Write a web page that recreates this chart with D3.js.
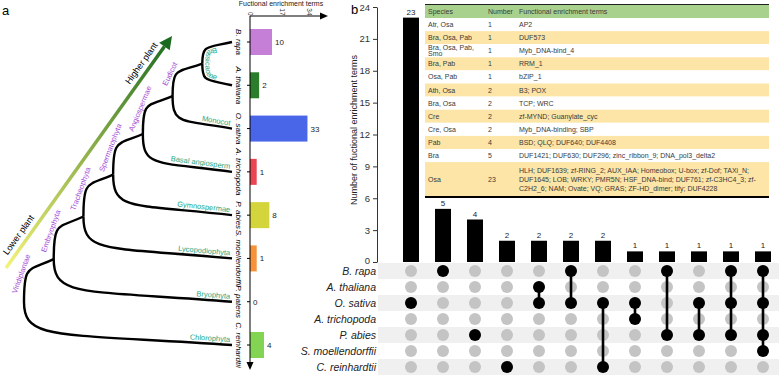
<!DOCTYPE html>
<html>
<head>
<meta charset="utf-8">
<script src="https://cdn.jsdelivr.net/npm/d3@7"></script>
<style>
  body { margin: 0; background: #fff; }
  svg { font-family: "Liberation Sans", Arial, sans-serif; }
</style>
</head>
<body>
<svg id="chart" width="779" height="375"></svg>
<script>
// ---- panel a data ----
var tipNames = ["B. rapa", "A. thaliana", "O. sativa", "A. trichopoda", "P. abies", "S. moellendorffii", "P. patens", "C. reinhardtii"];
var tipTerms = [10, 2, 33, 1, 8, 1, 0, 4];
var tipColors = ["#c57fd6", "#2b7d2b", "#4a66e8", "#ea4553", "#d4d43c", "#f5923a", "#cccccc", "#84d454"];
var tipBranchLabels = ["", "", "Monocot", "Basal angiosperm", "Gymnospermae", "Lycopodiophyta", "Bryophyta", "Chlorophyta"];
var cladeNames = ["Brassicaceae", "Eudicot", "Angiospermae", "Spermatophyta", "Tracheophyta", "Embryophyta", "Viridiplantae"];
var cladeDepth = [6, 5, 4, 3, 2, 1, 0];
var cladeChildren = [
  ["B. rapa", "A. thaliana"], ["Brassicaceae", "O. sativa"], ["Eudicot", "A. trichopoda"],
  ["Angiospermae", "P. abies"], ["Spermatophyta", "S. moellendorffii"], ["Tracheophyta", "P. patens"],
  ["Embryophyta", "C. reinhardtii"]
];
var termTicks = [0, 17, 34];

// ---- panel b data ----
var setSizes = [23, 5, 4, 2, 2, 2, 2, 1, 1, 1, 1, 1];
var setMembers = [
  ["O. sativa"], ["B. rapa"], ["P. abies"], ["C. reinhardtii"],
  ["A. thaliana", "O. sativa"], ["B. rapa", "O. sativa"], ["O. sativa", "C. reinhardtii"],
  ["O. sativa", "A. trichopoda"], ["B. rapa", "P. abies"], ["O. sativa", "P. abies"],
  ["B. rapa", "O. sativa", "P. abies"], ["B. rapa", "O. sativa", "P. abies", "S. moellendorffii"]
];
var matrixSpecies = ["B. rapa", "A. thaliana", "O. sativa", "A. trichopoda", "P. abies", "S. moellendorffii", "C. reinhardtii"];
var countTicks = [0, 3, 6, 9, 12, 15, 18, 21, 24];

var tableHeader = ["Species", "Number", "Functional enrichment terms"];
var tableSpecies = ["Atr, Osa", "Bra, Osa, Pab", "Bra, Osa, Pab,\nSmo", "Bra, Pab", "Osa, Pab", "Ath, Osa", "Bra, Osa", "Cre", "Cre, Osa", "Pab", "Bra", "Osa"];
var tableNumbers = [1, 1, 1, 1, 1, 2, 2, 2, 2, 4, 5, 23];
var tableTerms = [
  "AP2", "DUF573", "Myb_DNA-bind_4", "RRM_1", "bZIP_1", "B3; POX", "TCP; WRC",
  "zf-MYND; Guanylate_cyc", "Myb_DNA-binding; SBP", "BSD; QLQ; DUF640; DUF4408",
  "DUF1421; DUF630; DUF296; zinc_ribbon_9; DNA_pol3_delta2",
  "HLH; DUF1639; zf-RING_2; AUX_IAA; Homeobox; U-box; zf-Dof; TAXi_N;\nDUF1645; LOB; WRKY; PMR5N; HSF_DNA-bind; DUF761; zf-C3HC4_3; zf-\nC2H2_6; NAM; Ovate; VQ; GRAS; ZF-HD_dimer; tify; DUF4228"
];

var svg = d3.select("#chart");
var purple = "#a349d6", teal = "#22a884";
var defs = svg.append("defs");

// ================= panel a =================
svg.append("text").attr("x", 2).attr("y", 15).text("a").style("font-size", "13px");

var yA = d3.scalePoint().domain(tipNames).range([42, 345]);
// the bar axis of the figure is not strictly linear, so use a piecewise scale
var xA = d3.scaleLinear().domain([0, 1, 4, 10, 34]).range([250, 256.7, 264, 272, 309]);
var xTree = d3.scaleLinear().domain([0, 7]).range([24, 232]);

// node positions
var pos = {};
tipNames.forEach(function(n) { pos[n] = {x: xTree(7), y: yA(n)}; });
cladeNames.forEach(function(n, i) {
  pos[n] = {x: xTree(cladeDepth[i]), y: d3.mean(cladeChildren[i], function(k) { return pos[k].y; })};
});

// branch shape (cubic, normalised control points)
var ctrl = [[0, 0], [0, 0.9], [0.15, 0.72], [1, 1]];
function pts(p, c) {
  var dx = c.x - p.x, dy = c.y - p.y;
  return ctrl.map(function(q) { return [p.x + q[0] * dx, p.y + q[1] * dy]; });
}
function branch(p, c) {
  var q = pts(p, c);
  return "M" + q[0] + "C" + q[1] + " " + q[2] + " " + q[3];
}
function bez(p, c, t) {
  var dx = c.x - p.x, dy = c.y - p.y, mt = 1 - t;
  var w = [mt * mt * mt, 3 * mt * mt * t, 3 * mt * t * t, t * t * t];
  var u = 0, v = 0;
  ctrl.forEach(function(q, i) { u += w[i] * q[0]; v += w[i] * q[1]; });
  var du = 3 * (mt * mt * (ctrl[1][0] - ctrl[0][0]) + 2 * mt * t * (ctrl[2][0] - ctrl[1][0]) + t * t * (ctrl[3][0] - ctrl[2][0]));
  var dv = 3 * (mt * mt * (ctrl[1][1] - ctrl[0][1]) + 2 * mt * t * (ctrl[2][1] - ctrl[1][1]) + t * t * (ctrl[3][1] - ctrl[2][1]));
  return {x: p.x + u * dx, y: p.y + v * dy, a: Math.atan2(dv * dy, du * dx) * 180 / Math.PI};
}

var tree = svg.append("g");
cladeNames.forEach(function(n, i) {
  cladeChildren[i].forEach(function(k) {
    tree.append("path")
      .attr("d", branch(pos[n], pos[k]))
      .attr("fill", "none")
      .attr("stroke", "#000")
      .attr("stroke-width", 2.4);
  });
});

// clade labels along the upper branch
cladeNames.forEach(function(n, i) {
  if (i == 0) {
    // Brassicaceae follows the inside of its arc
    var pp = {x: pos[n].x + 3, y: pos[n].y};
    var up = pts(pp, {x: pos[cladeChildren[i][0]].x - 6, y: pos[cladeChildren[i][0]].y + 3});
    var dn = pts(pp, {x: pos[cladeChildren[i][1]].x - 6, y: pos[cladeChildren[i][1]].y - 3});
    defs.append("path").attr("id", "brassPath")
      .attr("d", "M" + up[3] + "C" + up[2] + " " + up[1] + " " + up[0] + "C" + dn[1] + " " + dn[2] + " " + dn[3]);
    tree.append("text")
      .attr("fill", teal)
      .style("font-size", "7.5px")
      .append("textPath")
      .attr("href", "#brassPath")
      .attr("startOffset", "50%")
      .attr("text-anchor", "middle")
      .text(n);
    return;
  }
  var b = bez(pos[n], pos[cladeChildren[i][0]], 0.35);
  tree.append("text")
    .attr("transform", "translate(" + b.x + "," + b.y + ") rotate(" + b.a + ")")
    .attr("dy", -3)
    .attr("text-anchor", "middle")
    .attr("fill", purple)
    .style("font-size", "7.5px")
    .text(n);
});

// tip branch labels
tipNames.forEach(function(n, i) {
  if (!tipBranchLabels[i]) return;
  var parent = cladeNames[cladeChildren.findIndex(function(c) { return c.indexOf(n) >= 0; })];
  var b = bez(pos[parent], pos[n], 0.97);
  tree.append("text")
    .attr("transform", "translate(" + (pos[n].x - 2) + "," + (pos[n].y - 3) + ") rotate(" + b.a + ")")
    .attr("text-anchor", "end")
    .attr("fill", teal)
    .style("font-size", "7.5px")
    .text(tipBranchLabels[i]);
});

// lower -> higher plant arrow
var arrowFrom = [6, 268], arrowTo = [172, 36];
var ang = Math.atan2(arrowTo[1] - arrowFrom[1], arrowTo[0] - arrowFrom[0]);
var grad = defs.append("linearGradient")
  .attr("id", "evo").attr("gradientUnits", "userSpaceOnUse")
  .attr("x1", arrowFrom[0]).attr("y1", arrowFrom[1]).attr("x2", arrowTo[0]).attr("y2", arrowTo[1]);
grad.append("stop").attr("offset", 0).attr("stop-color", "#f3f37a");
grad.append("stop").attr("offset", 0.5).attr("stop-color", "#8fb04a");
grad.append("stop").attr("offset", 1).attr("stop-color", "#1a6a1f");
var headLen = 13;
svg.append("line")
  .attr("x1", arrowFrom[0]).attr("y1", arrowFrom[1])
  .attr("x2", arrowTo[0] - headLen * Math.cos(ang)).attr("y2", arrowTo[1] - headLen * Math.sin(ang))
  .attr("stroke", "url(#evo)").attr("stroke-width", 3.5);
svg.append("path")
  .attr("d", "M0,0L-" + headLen + ",-6.5L-" + headLen + ",6.5Z")
  .attr("transform", "translate(" + arrowTo + ") rotate(" + ang * 180 / Math.PI + ")")
  .attr("fill", "#1a6a1f");
[["Higher plant", 0.86], ["Lower plant", 0.12]].forEach(function(l) {
  var px = arrowFrom[0] + l[1] * (arrowTo[0] - arrowFrom[0]);
  var py = arrowFrom[1] + l[1] * (arrowTo[1] - arrowFrom[1]);
  svg.append("text")
    .attr("transform", "translate(" + px + "," + py + ") rotate(" + ang * 180 / Math.PI + ")")
    .attr("dy", -6)
    .attr("text-anchor", "middle")
    .style("font-size", "9px")
    .text(l[0]);
});

// bar chart of panel a
var barA = svg.append("g");
barA.selectAll("rect").data(tipNames).enter().append("rect")
  .attr("x", xA(0))
  .attr("y", function(d) { return yA(d) - 13; })
  .attr("width", function(d, i) { return xA(tipTerms[i]) - xA(0); })
  .attr("height", 26)
  .attr("fill", function(d, i) { return tipColors[i]; });
barA.selectAll(".val").data(tipNames).enter().append("text")
  .attr("x", function(d, i) { return xA(tipTerms[i]) + 3; })
  .attr("y", function(d) { return yA(d) + 3; })
  .style("font-size", "8px").attr("fill", "#222")
  .text(function(d, i) { return tipTerms[i]; });
barA.selectAll(".sp").data(tipNames).enter().append("text")
  .attr("transform", function(d) { return "translate(236," + yA(d) + ") rotate(90)"; })
  .attr("text-anchor", "middle")
  .style("font-size", "8px").style("font-style", "italic")
  .text(function(d) { return d; });
barA.selectAll(".tk").data(tipNames).enter().append("line")
  .attr("x1", xA(0) - 3).attr("x2", xA(0))
  .attr("y1", function(d) { return yA(d); }).attr("y2", function(d) { return yA(d); })
  .attr("stroke", "#000");
// axes with arrows
barA.append("line").attr("x1", xA(0)).attr("x2", xA(0)).attr("y1", 16).attr("y2", 364).attr("stroke", "#000");
barA.append("path").attr("d", "M" + xA(0) + ",370l-3.5,-8h7z").attr("fill", "#000");
barA.append("line").attr("x1", xA(0)).attr("x2", 322).attr("y1", 16).attr("y2", 16).attr("stroke", "#000");
barA.append("path").attr("d", "M328,16l-8,-3.5v7z").attr("fill", "#000");
barA.selectAll(".tt").data(termTicks).enter().append("text")
  .attr("transform", function(d) { return "translate(" + (xA(d) - 2.5) + ",15.5) rotate(90)"; })
  .attr("text-anchor", "end")
  .style("font-size", "6.5px").attr("fill", "#333")
  .text(function(d) { return d; });
barA.append("text").attr("x", 281).attr("y", 6).attr("text-anchor", "middle")
  .style("font-size", "7px").attr("fill", "#222").text("Fuctional enrichment terms");

// ================= panel b =================
svg.append("text").attr("x", 351).attr("y", 14).text("b").style("font-size", "13px");

var yB = d3.scaleLinear().domain([0, 24]).range([262, 7]);
var xB = d3.scaleBand().domain(d3.range(setSizes.length)).range([395, 779]).paddingInner(0.5).paddingOuter(0.25);
var yM = d3.scalePoint().domain(matrixSpecies).range([271, 367]);

// row stripes
svg.selectAll(".stripe").data(matrixSpecies.filter(function(d, i) { return i % 2 == 0; })).enter().append("rect")
  .attr("x", 378).attr("width", 401)
  .attr("y", function(d) { return yM(d) - 8; }).attr("height", 16)
  .attr("fill", "#f0f0f0");

var yAxis = svg.append("g").attr("transform", "translate(377,0)")
  .call(d3.axisLeft(yB).tickValues(countTicks).tickSize(4).tickSizeOuter(0));
yAxis.selectAll("text").style("font-size", "9.5px").attr("fill", "#333")
  .attr("dy", function(d) { return d == 0 ? "0.12em" : "0.32em"; });
yAxis.selectAll("line,path").attr("stroke", "#333");
svg.append("text")
  .attr("transform", "translate(357,130) rotate(-90)")
  .attr("text-anchor", "middle")
  .style("font-size", "9px").attr("fill", "#222")
  .text("Number of fuctional enrichment terms");

svg.selectAll(".bar").data(setSizes).enter().append("rect")
  .attr("x", function(d, i) { return xB(i); })
  .attr("y", function(d) { return yB(d); })
  .attr("width", xB.bandwidth())
  .attr("height", function(d) { return yB(0) - yB(d); })
  .attr("fill", "#000");
svg.selectAll(".barval").data(setSizes).enter().append("text")
  .attr("x", function(d, i) { return xB(i) + xB.bandwidth() / 2; })
  .attr("y", function(d) { return yB(d) - 3; })
  .attr("text-anchor", "middle")
  .style("font-size", "8px").attr("fill", "#222")
  .text(function(d) { return d; });

// matrix
svg.selectAll(".mlab").data(matrixSpecies).enter().append("text")
  .attr("x", 376).attr("y", function(d) { return yM(d) + 4.3; })
  .attr("text-anchor", "end")
  .style("font-size", "10.5px").style("font-style", "italic").attr("fill", "#222")
  .text(function(d) { return d; });
setMembers.forEach(function(mem, i) {
  var cx = xB(i) + xB.bandwidth() / 2;
  var g = svg.append("g");
  g.selectAll("circle").data(matrixSpecies).enter().append("circle")
    .attr("cx", cx).attr("cy", function(d) { return yM(d); }).attr("r", 6)
    .attr("fill", function(d) { return mem.indexOf(d) >= 0 ? "#000" : "#c4c4c4"; });
  if (mem.length > 1) {
    var ext = d3.extent(mem, function(d) { return yM(d); });
    g.append("line").attr("x1", cx).attr("x2", cx).attr("y1", ext[0]).attr("y2", ext[1])
      .attr("stroke", "#000").attr("stroke-width", 2.6);
  }
});

// table
var tX = 425, tW = 344, headH = 13, rowH = 13.1, tallH = 35;
var colX = [428, 488, 519];
var tab = svg.append("g").style("font-size", "7px").attr("fill", "#3a3a3a");
var ty = 5;
tab.append("rect").attr("x", tX).attr("y", ty).attr("width", tW).attr("height", headH).attr("fill", "#a9d18e");
tableHeader.forEach(function(h, j) {
  tab.append("text").attr("x", colX[j]).attr("y", ty + headH / 2 + 2.5).text(h);
});
ty += headH;
function cell(str, x, yc) {
  var lines = String(str).split("\n");
  var gap = lines.length > 2 ? 8.8 : 6;
  lines.forEach(function(l, k) {
    tab.append("text").attr("x", x).attr("y", yc + 2.5 + (k - (lines.length - 1) / 2) * gap).text(l);
  });
}
tableSpecies.forEach(function(s, i) {
  var h = tableTerms[i].split("\n").length > 2 ? tallH : rowH;
  tab.append("rect").attr("x", tX).attr("y", ty).attr("width", tW).attr("height", h)
    .attr("fill", i % 2 ? "#fce5a6" : "#fff");
  cell(s, colX[0], ty + h / 2);
  cell(tableNumbers[i], colX[1], ty + h / 2);
  cell(tableTerms[i], colX[2], ty + h / 2);
  ty += h;
});
tab.append("line").attr("x1", tX).attr("x2", tX + tW).attr("y1", 4.5).attr("y2", 4.5).attr("stroke", "#222").attr("stroke-width", 1);
tab.append("line").attr("x1", tX).attr("x2", tX + tW).attr("y1", ty).attr("y2", ty).attr("stroke", "#000").attr("stroke-width", 2);
</script>
</body>
</html>
